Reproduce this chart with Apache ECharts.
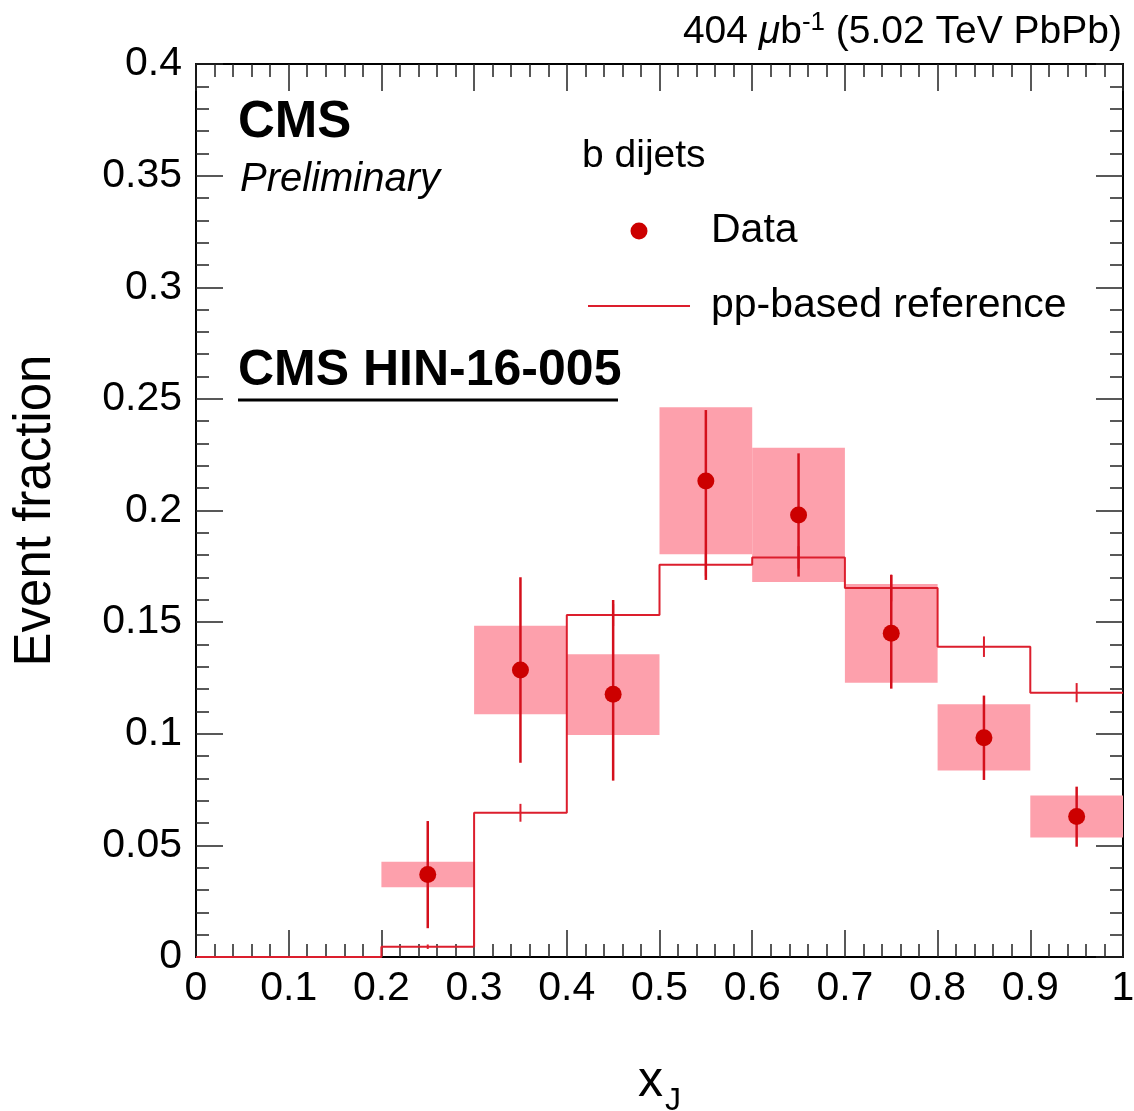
<!DOCTYPE html>
<html>
<head>
<meta charset="utf-8">
<script src="https://cdn.jsdelivr.net/npm/echarts@6/dist/echarts.min.js"></script>
<style>
  html, body { margin: 0; padding: 0; background: #fff; }
  #chart { width: 1134px; height: 1111px; }
</style>
</head>
<body>
<div id="chart"></div>
<script>
const binEdges = [0, 0.1, 0.2, 0.3, 0.4, 0.5, 0.6, 0.7, 0.8, 0.9, 1.0]
const refValues = [0, 0, 0.0046, 0.0646, 0.1532, 0.1757, 0.179, 0.1653, 0.139, 0.1184]
const refErrors = [0, 0, 0.001, 0.004, 0.005, 0.005, 0.005, 0.006, 0.0046, 0.0043]

const dataCenters = [0.25, 0.35, 0.45, 0.55, 0.65, 0.75, 0.85, 0.95]
const dataValues = [0.037, 0.1286, 0.1177, 0.2132, 0.198, 0.145, 0.0982, 0.0629]
const statLow = [0.0129, 0.087, 0.079, 0.1689, 0.1704, 0.1202, 0.0793, 0.0494]
const statHigh = [0.0609, 0.1701, 0.1599, 0.245, 0.2256, 0.1711, 0.1171, 0.0763]
const sysLow = [0.0312, 0.1087, 0.0994, 0.1804, 0.168, 0.1229, 0.0835, 0.0535]
const sysHigh = [0.0427, 0.1484, 0.1356, 0.2462, 0.2281, 0.1671, 0.1132, 0.0723]
const sysBinLow = [0.2, 0.3, 0.4, 0.5, 0.6, 0.7, 0.8, 0.9]
const sysBinHigh = [0.3, 0.4, 0.5, 0.6, 0.7, 0.8, 0.9, 1.0]

const FONT = 'Liberation Sans'
const RED = '#cc0000'
const LINE_RED = '#dc1e2d'
const BOX_PINK = '#fda0ac'

// step line points built from the bin edges
const refStep = []
refValues.forEach((v, i) => {
  refStep.push([binEdges[i], v])
  refStep.push([binEdges[i + 1], v])
})

const refErrData = []
refValues.forEach((v, i) => {
  if (refErrors[i] > 0) {
    const c = (binEdges[i] + binEdges[i + 1]) / 2
    refErrData.push([c, v - refErrors[i], v + refErrors[i]])
  }
})

const statData = dataCenters.map((c, i) => [c, statLow[i], statHigh[i]])
const sysData = sysBinLow.map((lo, i) => [lo, sysBinHigh[i], sysLow[i], sysHigh[i]])
const pointData = dataCenters.map((c, i) => [c, dataValues[i]])

function renderBar(color, width) {
  return function (params, api) {
    const top = api.coord([api.value(0), api.value(2)])
    const bottom = api.coord([api.value(0), api.value(1)])
    return {
      type: 'line',
      shape: { x1: top[0], y1: top[1], x2: bottom[0], y2: bottom[1] },
      style: { stroke: color, lineWidth: width }
    }
  }
}

function renderBox(params, api) {
  const p1 = api.coord([api.value(0), api.value(3)])
  const p2 = api.coord([api.value(1), api.value(2)])
  return {
    type: 'rect',
    shape: { x: p1[0], y: p1[1], width: p2[0] - p1[0], height: p2[1] - p1[1] },
    style: { fill: BOX_PINK }
  }
}

const axisCommon = {
  axisLine: { show: true, onZero: false, lineStyle: { color: '#000', width: 2 } },
  axisTick: { show: true, inside: true, length: 27, lineStyle: { color: '#222', width: 1.5 } },
  minorTick: { show: true, splitNumber: 5, length: 13, lineStyle: { color: '#222', width: 1.5 } },
  splitLine: { show: false },
  minorSplitLine: { show: false }
}

const xBase = Object.assign({ type: 'value', min: 0, max: 1, interval: 0.1 }, axisCommon)
const yBase = Object.assign({ type: 'value', min: 0, max: 0.4, interval: 0.05 }, axisCommon)

const chart = echarts.init(document.getElementById('chart'))

chart.setOption({
  animation: false,
  backgroundColor: '#fff',
  textStyle: { fontFamily: FONT },
  grid: { left: 196, top: 64, width: 927, height: 893, containLabel: false, outerBoundsMode: 'none' },
  title: [
    {
      text: 'CMS', left: 238, top: 97, padding: 0,
      textStyle: { fontFamily: FONT, fontWeight: 'bold', fontSize: 51, lineHeight: 51, color: '#000' }
    },
    {
      text: 'Preliminary', left: 240, top: 160, padding: 0,
      textStyle: { fontFamily: FONT, fontStyle: 'italic', fontWeight: 'normal', fontSize: 40, lineHeight: 40, color: '#000' }
    },
    {
      text: 'b dijets', left: 582, top: 137, padding: 0,
      textStyle: { fontFamily: FONT, fontWeight: 'normal', fontSize: 39, lineHeight: 39, color: '#000' }
    },
    {
      text: 'CMS HIN-16-005', left: 238, top: 346, padding: 0,
      textStyle: { fontFamily: FONT, fontWeight: 'bold', fontSize: 50, lineHeight: 50, color: '#000' }
    },
    {
      text: '{n|404 }{mu|μ}{n|b}{sup|-1}{n| (5.02 TeV PbPb)}',
      right: 12, top: 10, padding: 0,
      textStyle: {
        fontWeight: 'normal',
        rich: {
          n: { fontFamily: FONT, fontSize: 39, fontWeight: 'normal', lineHeight: 42, color: '#000', verticalAlign: 'bottom' },
          mu: { fontFamily: FONT, fontSize: 39, fontWeight: 'normal', lineHeight: 42, fontStyle: 'italic', color: '#000', verticalAlign: 'bottom' },
          sup: { fontFamily: FONT, fontSize: 26, fontWeight: 'normal', lineHeight: 26, color: '#000', verticalAlign: 'top' }
        }
      }
    }
  ],
  graphic: [
    {
      type: 'line',
      shape: { x1: 238, y1: 400, x2: 618, y2: 400 },
      style: { stroke: '#000', lineWidth: 3 }
    }
  ],
  legend: {
    orient: 'vertical',
    left: 588,
    top: 209,
    padding: 0,
    itemWidth: 102,
    itemHeight: 17,
    itemGap: 31,
    selectedMode: false,
    data: [
      { name: 'Data', icon: 'circle' },
      { name: 'pp-based reference', icon: 'path://M0,0 L102,0 L102,2 L0,2 Z' }
    ],
    textStyle: { fontFamily: FONT, fontSize: 41, lineHeight: 44, color: '#000', padding: [0, 0, 0, 16] }
  },
  xAxis: [
    Object.assign({}, xBase, {
      position: 'bottom',
      name: '{x|x}{j|J}',
      nameLocation: 'middle',
      nameGap: 100,
      nameTextStyle: {
        rich: {
          x: { fontFamily: FONT, fontSize: 50, lineHeight: 48, color: '#000', verticalAlign: 'top' },
          j: { fontFamily: FONT, fontSize: 32, lineHeight: 32, color: '#000', verticalAlign: 'top', padding: [28, 0, 0, 2] }
        }
      },
      axisLabel: { show: true, margin: 11, fontFamily: FONT, fontSize: 41, color: '#000' }
    }),
    Object.assign({}, xBase, { position: 'top', axisLabel: { show: false } })
  ],
  yAxis: [
    Object.assign({}, yBase, {
      position: 'left',
      name: 'Event fraction',
      nameLocation: 'middle',
      nameGap: 135,
      nameTextStyle: { fontFamily: FONT, fontSize: 51, lineHeight: 51, color: '#000' },
      axisLabel: { show: true, margin: 14, fontFamily: FONT, fontSize: 41, color: '#000' }
    }),
    Object.assign({}, yBase, { position: 'right', axisLabel: { show: false } })
  ],
  series: [
    {
      name: 'sys',
      type: 'custom',
      renderItem: renderBox,
      data: sysData,
      encode: { x: [0, 1], y: [2, 3] },
      z: 1,
      silent: true
    },
    {
      name: 'pp-based reference',
      type: 'line',
      data: refStep,
      symbol: 'none',
      lineStyle: { color: LINE_RED, width: 2 },
      itemStyle: { color: LINE_RED },
      z: 2
    },
    {
      name: 'refErr',
      type: 'custom',
      renderItem: renderBar(LINE_RED, 2),
      data: refErrData,
      encode: { x: 0, y: [1, 2] },
      z: 3,
      silent: true
    },
    {
      name: 'statErr',
      type: 'custom',
      renderItem: renderBar('#d4101c', 2.5),
      data: statData,
      encode: { x: 0, y: [1, 2] },
      z: 4,
      silent: true
    },
    {
      name: 'Data',
      type: 'scatter',
      data: pointData,
      symbol: 'circle',
      symbolSize: 17,
      itemStyle: { color: RED, opacity: 1 },
      z: 5
    }
  ]
})
</script>
</body>
</html>
